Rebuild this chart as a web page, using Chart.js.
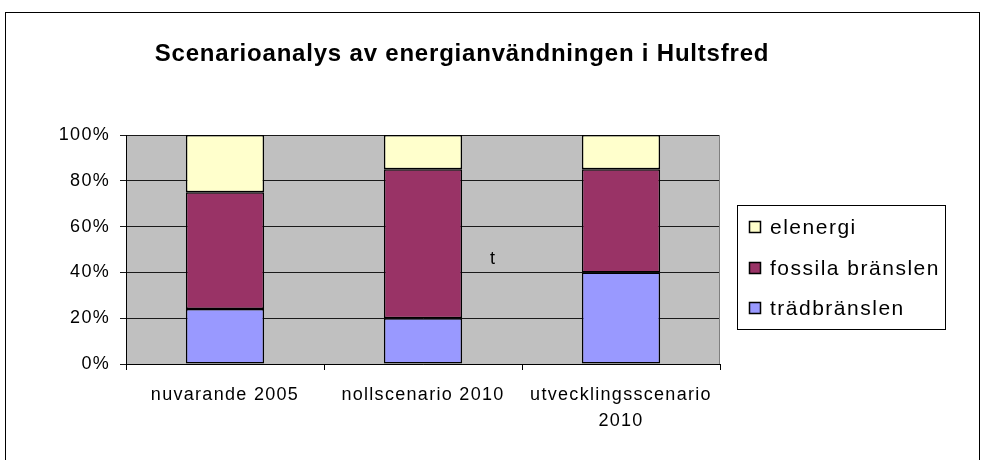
<!DOCTYPE html>
<html>
<head>
<meta charset="utf-8">
<title>Scenarioanalys av energianvändningen i Hultsfred</title>
<script src="https://cdn.jsdelivr.net/npm/chart.js@4"></script>
<style>
    html, body { margin: 0; padding: 0; background: #fff; }
    #wrap { position: relative; width: 982px; height: 460px; }
</style>
</head>
<body>
<div id="wrap"><canvas id="chart" width="982" height="460"></canvas></div>
<script>
const categories = ['nuvarande 2005', 'nollscenario 2010', ['utvecklingsscenario', '2010']];
const tradbranslen = [24, 20, 40];
const fossilaBranslen = [51, 65, 45];
const elenergi = [25, 15, 15];
const tickLabels = ['0%', '20%', '40%', '60%', '80%', '100%'];

const FONT = '"Liberation Sans", Arial, sans-serif';

// plot background, outer frame, title, legend and the stray "t"
const excelLook = {
    id: 'excelLook',
    beforeDraw(chart) {
        const ctx = chart.ctx;
        const a = chart.chartArea;
        ctx.save();
        ctx.fillStyle = '#fff';
        ctx.fillRect(0, 0, chart.width, chart.height);
        ctx.fillStyle = '#C0C0C0';
        ctx.fillRect(a.left, a.top, a.right - a.left, a.bottom - a.top);
        ctx.restore();
        ctx.letterSpacing = '1.3px';
    },
    afterDatasetsDraw(chart) {
        const ctx = chart.ctx;
        const a = chart.chartArea;
        ctx.save();
        ctx.strokeStyle = '#808080';
        ctx.lineWidth = 1;
        ctx.beginPath();
        ctx.moveTo(a.right - 0.5, a.top);
        ctx.lineTo(a.right - 0.5, a.bottom);
        ctx.stroke();
        ctx.restore();
    },
    afterDraw(chart) {
        const ctx = chart.ctx;
        ctx.save();
        // outer frame
        ctx.strokeStyle = '#000';
        ctx.lineWidth = 1;
        ctx.strokeRect(5.5, 12.5, 974, 500);

        // title
        ctx.fillStyle = '#000';
        ctx.letterSpacing = '0.8px';
        ctx.font = 'bold 24px ' + FONT;
        ctx.textAlign = 'center';
        ctx.textBaseline = 'alphabetic';
        ctx.fillText('Scenarioanalys av energianvändningen i Hultsfred', 462, 61);

        // stray text in the plot
        ctx.letterSpacing = '0px';
        ctx.font = '18px ' + FONT;
        ctx.textAlign = 'left';
        ctx.fillText('t', 490, 264);

        // legend
        ctx.fillStyle = '#fff';
        ctx.fillRect(737.5, 205.5, 208, 124);
        ctx.strokeRect(737.5, 205.5, 208, 124);
        ctx.letterSpacing = '1.5px';
        ctx.font = '21px ' + FONT;
        const items = chart.data.datasets.slice().reverse();
        items.forEach((ds, i) => {
            const cy = 227 + i * 40.5;
            ctx.fillStyle = ds.backgroundColor;
            ctx.fillRect(749.5, Math.round(cy) - 5.5, 11, 11);
            ctx.lineWidth = 1.5;
            ctx.strokeRect(749.5, Math.round(cy) - 5.5, 11, 11);
            ctx.lineWidth = 1;
            ctx.fillStyle = '#000';
            ctx.fillText(ds.label, 770, cy + 7);
        });
        ctx.restore();
    }
};

new Chart(document.getElementById('chart'), {
    type: 'bar',
    data: {
        labels: categories,
        datasets: [
            { label: 'trädbränslen', data: tradbranslen, backgroundColor: '#9999FF' },
            { label: 'fossila bränslen', data: fossilaBranslen, backgroundColor: '#993366' },
            { label: 'elenergi', data: elenergi, backgroundColor: '#FFFFCC' }
        ].map(ds => Object.assign(ds, {
            borderColor: '#000',
            borderWidth: 1.5,
            borderSkipped: false,
            inflateAmount: 0,
            categoryPercentage: 1,
            barPercentage: 0.395
        }))
    },
    options: {
        responsive: false,
        animation: false,
        layout: { padding: { left: 5, top: 135, right: 262, bottom: 0 } },
        plugins: {
            legend: { display: false },
            title: { display: false },
            tooltip: { enabled: false }
        },
        scales: {
            x: {
                stacked: true,
                offset: true,
                afterFit: scale => { scale.height = 96; },
                grid: { offset: true, drawOnChartArea: false, color: '#000', tickLength: 6 },
                border: { color: '#000' },
                ticks: {
                    color: '#000',
                    padding: 12,
                    maxRotation: 0,
                    autoSkip: false,
                    font: { family: FONT, size: 18, lineHeight: 1.45 }
                }
            },
            y: {
                stacked: true,
                min: 0,
                max: 100,
                afterFit: scale => { scale.width = 121; },
                grid: { color: '#1a1a1a', tickLength: 6 },
                border: { color: '#000' },
                ticks: {
                    stepSize: 20,
                    color: '#000',
                    padding: 10,
                    font: { family: FONT, size: 18 },
                    callback: (v, i) => tickLabels[i]
                }
            }
        }
    },
    plugins: [excelLook]
});
</script>
</body>
</html>
